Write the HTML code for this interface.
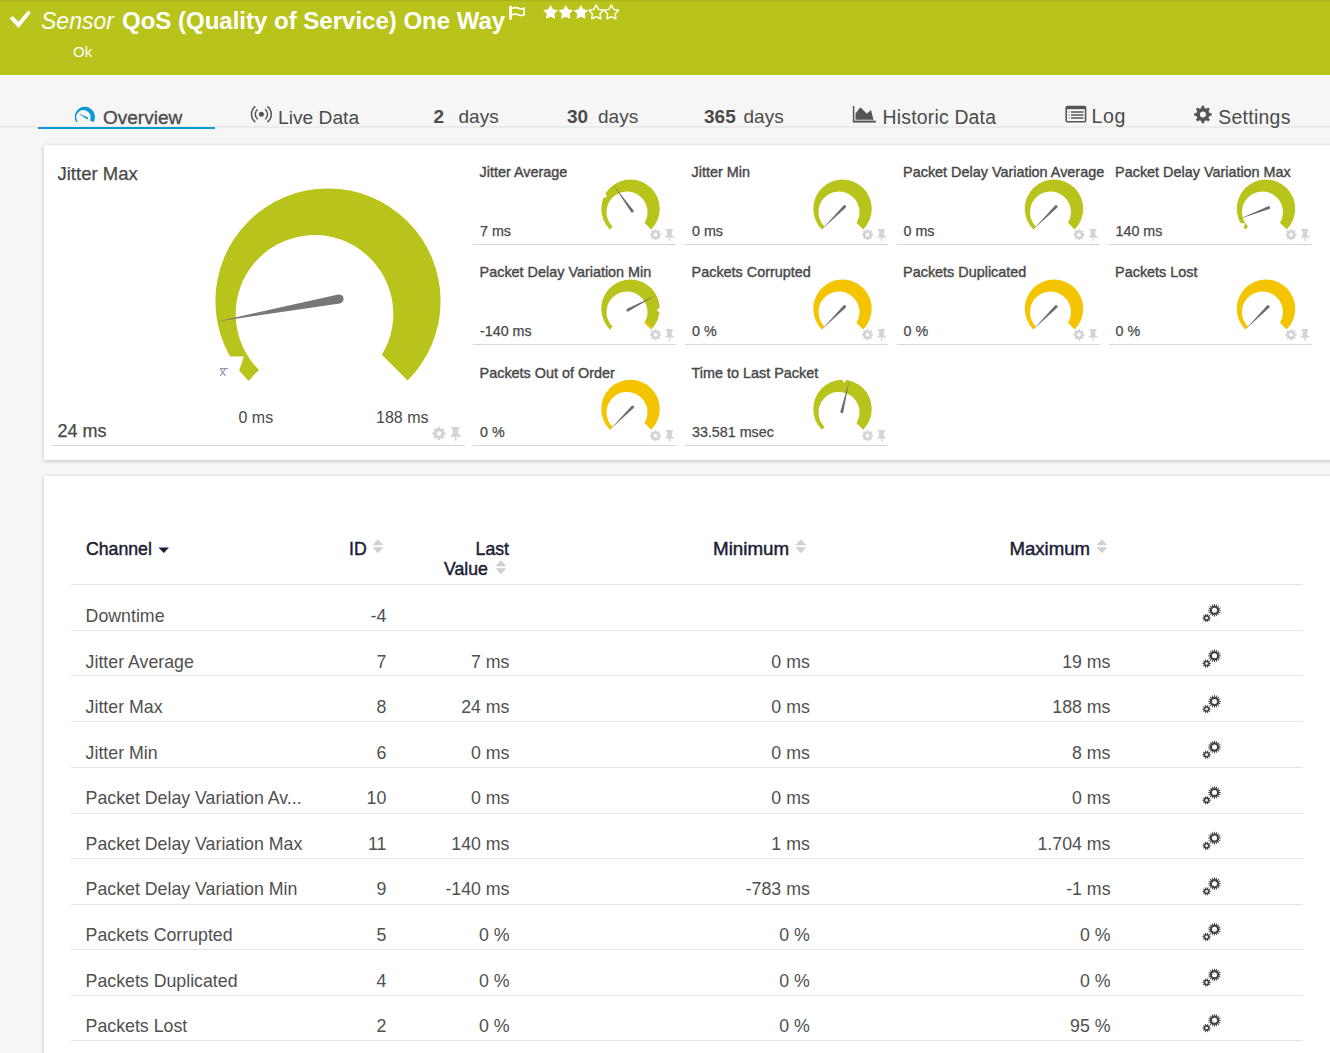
<!DOCTYPE html>
<html><head><meta charset="utf-8"><title>Sensor QoS</title>
<style>
html,body{margin:0;padding:0;}
body{width:1330px;height:1053px;overflow:hidden;position:relative;background:#f6f6f6;font-family:"Liberation Sans",sans-serif;}
.t{position:absolute;white-space:nowrap;line-height:1;}
svg{position:absolute;overflow:visible;}
</style></head><body>
<div style="position:absolute;left:0.00px;top:0.00px;width:1330.00px;height:75.00px;background:#b8c41b;"></div>
<div style="position:absolute;left:0.00px;top:0.00px;width:1330.00px;height:2.00px;background:linear-gradient(#a7b119,#b8c41b);"></div>
<svg style="left:0;top:0" width="40" height="40"><path d="M9.7 18.5 L12.6 16.1 L18.5 21.8 L28.1 10.4 L30.9 12.7 L18.6 28.1 Z" fill="#fff"/></svg>
<div class="t " style="left:41.00px;top:9.53px;font-size:23.00px;color:#fff;font-style:italic;">Sensor</div>
<div class="t " style="left:122.00px;top:8.78px;font-size:24.00px;color:#fff;font-weight:bold;letter-spacing:0px;">QoS (Quality of Service) One Way</div>
<svg style="left:504px;top:2px" width="26" height="22"><rect x="5.2" y="4.3" width="2.7" height="13.5" rx="1" fill="#fff"/><circle cx="6.6" cy="5.2" r="1.4" fill="#fff"/><path d="M8 6.3 C10.5 5.2 13 5.6 16 6.7 C18 7.4 19.2 6.2 20.1 6.2 V12.8 C18.5 13.4 17 13.9 15.5 13.2 C13 12.1 11 11.6 8 12.6" stroke="#fff" stroke-width="1.7" fill="none"/></svg>
<svg style="left:543px;top:0" width="80" height="24"><polygon points="7.60,5.00 9.97,9.34 14.83,10.25 11.43,13.84 12.07,18.75 7.60,16.63 3.13,18.75 3.77,13.84 0.37,10.25 5.23,9.34" fill="#fff"/><polygon points="22.80,5.00 25.17,9.34 30.03,10.25 26.63,13.84 27.27,18.75 22.80,16.63 18.33,18.75 18.97,13.84 15.57,10.25 20.43,9.34" fill="#fff"/><polygon points="38.00,5.00 40.37,9.34 45.23,10.25 41.83,13.84 42.47,18.75 38.00,16.63 33.53,18.75 34.17,13.84 30.77,10.25 35.63,9.34" fill="#fff"/><polygon points="53.20,5.00 55.57,9.34 60.43,10.25 57.03,13.84 57.67,18.75 53.20,16.63 48.73,18.75 49.37,13.84 45.97,10.25 50.83,9.34" fill="none" stroke="#fff" stroke-width="1.4" stroke-linejoin="round"/><polygon points="68.40,5.00 70.77,9.34 75.63,10.25 72.23,13.84 72.87,18.75 68.40,16.63 63.93,18.75 64.57,13.84 61.17,10.25 66.03,9.34" fill="none" stroke="#fff" stroke-width="1.4" stroke-linejoin="round"/></svg>
<div class="t " style="left:73.00px;top:44.30px;font-size:15.00px;color:#fff;font-weight:normal;">Ok</div>
<div style="position:absolute;left:0.00px;top:126.20px;width:1330.00px;height:1.60px;background:#ebebeb;"></div>
<div style="position:absolute;left:38.00px;top:127.00px;width:177.00px;height:2.00px;background:#0a9ad6;"></div>
<svg style="left:0;top:0" width="200" height="200"><path d="M76.24 122.33 A10.15 10.15 0 1 1 93.46 122.33 L90.02 120.18 A7.21 7.21 0 1 0 77.59 121.48 Z" fill="#0a9ad6"/><path d="M87.56 117.32 L78.22 113.20 L86.56 119.08 A1.02 1.02 0 0 0 87.56 117.32 Z" fill="#0a9ad6"/></svg>
<div class="t " style="left:103.00px;top:107.92px;font-size:19.00px;color:#4b4b4b;-webkit-text-stroke:0.35px #4b4b4b;">Overview</div>
<svg style="left:240px;top:100px" width="40" height="26"><circle cx="21.4" cy="14.3" r="2.5" fill="#555"/><path d="M17.6 9.2 A6.8 6.8 0 0 0 17.6 19.4 M25.2 9.2 A6.8 6.8 0 0 1 25.2 19.4 M15.4 6.4 A10 10 0 0 0 15.4 22.2 M27.4 6.4 A10 10 0 0 1 27.4 22.2" stroke="#555" stroke-width="1.5" fill="none"/></svg>
<div class="t " style="left:278.00px;top:107.75px;font-size:19.20px;color:#4b4b4b;">Live Data</div>
<div class="t " style="left:433.50px;top:106.82px;font-size:19.00px;color:#4b4b4b;font-weight:bold;">2</div>
<div class="t " style="left:458.50px;top:106.82px;font-size:19.00px;color:#4b4b4b;">days</div>
<div class="t " style="left:567.00px;top:106.82px;font-size:19.00px;color:#4b4b4b;font-weight:bold;">30</div>
<div class="t " style="left:598.00px;top:106.82px;font-size:19.00px;color:#4b4b4b;">days</div>
<div class="t " style="left:704.00px;top:106.82px;font-size:19.00px;color:#4b4b4b;font-weight:bold;">365</div>
<div class="t " style="left:743.50px;top:106.82px;font-size:19.00px;color:#4b4b4b;">days</div>
<svg style="left:850px;top:104px" width="30" height="20"><path d="M3.6 2 V17.6" stroke="#555" stroke-width="1.5" fill="none"/><path d="M2.9 17.6 H25.8" stroke="#555" stroke-width="2" fill="none"/><path d="M5.5 15.8 V9.4 L10.3 3.2 L16.9 9.8 L21 6 L23.5 15.8 Z" fill="#555"/></svg>
<div class="t " style="left:882.60px;top:107.58px;font-size:19.40px;color:#4b4b4b;letter-spacing:0.2px;">Historic Data</div>
<svg style="left:1064px;top:104px" width="24" height="20"><rect x="2.2" y="2.6" width="19.4" height="15.2" rx="1.2" fill="none" stroke="#555" stroke-width="1.6"/><rect x="2" y="2" width="19.8" height="3.2" fill="#555"/><path d="M4.5 8 H5.5 M4.5 11 H5.5 M4.5 14 H5.5" stroke="#555" stroke-width="1.2"/><path d="M7 8 H19.5 M7 11 H19.5 M7 14 H19.5" stroke="#555" stroke-width="1.6"/></svg>
<div class="t " style="left:1091.60px;top:107.41px;font-size:19.60px;color:#4b4b4b;letter-spacing:0.5px;">Log</div>
<svg style="left:1190px;top:102px" width="26" height="26"><path d="M19.32,10.96 L21.60,11.19 L21.60,13.81 L19.32,14.04 L18.53,15.95 L19.98,17.73 L18.13,19.58 L16.35,18.13 L14.44,18.92 L14.21,21.20 L11.59,21.20 L11.36,18.92 L9.45,18.13 L7.67,19.58 L5.82,17.73 L7.27,15.95 L6.48,14.04 L4.20,13.81 L4.20,11.19 L6.48,10.96 L7.27,9.05 L5.82,7.27 L7.67,5.42 L9.45,6.87 L11.36,6.08 L11.59,3.80 L14.21,3.80 L14.44,6.08 L16.35,6.87 L18.13,5.42 L19.98,7.27 L18.53,9.05 Z M9.90 12.50 a3.00 3.00 0 1 0 6.00 0 a3.00 3.00 0 1 0 -6.00 0 Z" fill="#555" fill-rule="evenodd"/></svg>
<div class="t " style="left:1218.20px;top:107.58px;font-size:19.40px;color:#4b4b4b;letter-spacing:0.3px;">Settings</div>
<div style="position:absolute;left:44.00px;top:145.00px;width:1300.00px;height:315.00px;background:#fff;box-shadow:0 1px 4px rgba(0,0,0,0.22);"></div>
<div class="t " style="left:57.50px;top:165.34px;font-size:18.50px;color:#484848;-webkit-text-stroke:0.25px #484848;">Jitter Max</div>
<svg style="left:0;top:0" width="1330" height="1053"><path d="M248.38 380.62 A112.60 112.60 0 1 1 407.62 380.62 L381.86 354.86 A78.82 78.82 0 1 0 259.04 369.96 Z" fill="#b8c41b"/><path d="M222 356.5 L243.9 356.6 L239.2 370.5 L220 390 Z" fill="#fff"/><path d="M239.2 370.5 L248.6 380.8 L252 377.4 L245 365 Z" fill="#b8c41b"/><path d="M338.25 294.52 L216.18 321.72 L339.89 303.38 A4.50 4.50 0 0 0 338.25 294.52 Z" fill="#777"/></svg>
<div class="t " style="left:219.50px;top:365.00px;font-size:13.00px;color:#8a93a8;font-family:"Liberation Serif",serif;">x</div>
<div style="position:absolute;left:219.50px;top:367.50px;width:8.00px;height:1.00px;background:#8a93a8;"></div>
<div class="t " style="left:238.50px;top:409.76px;font-size:16.00px;color:#484848;">0 ms</div>
<div class="t " style="left:376.00px;top:409.76px;font-size:16.00px;color:#484848;">188 ms</div>
<div class="t " style="left:57.50px;top:421.96px;font-size:18.00px;color:#484848;-webkit-text-stroke:0.25px #484848;">24 ms</div>
<div style="position:absolute;left:51.00px;top:445.00px;width:414.00px;height:1.00px;background:#d6d8db;"></div>
<svg style="left:0;top:0" width="1330" height="1053"><path d="M444.01,432.13 L445.51,432.36 L445.51,434.64 L444.01,434.87 L443.51,436.07 L444.41,437.30 L442.80,438.91 L441.57,438.01 L440.37,438.51 L440.14,440.01 L437.86,440.01 L437.63,438.51 L436.43,438.01 L435.20,438.91 L433.59,437.30 L434.49,436.07 L433.99,434.87 L432.49,434.64 L432.49,432.36 L433.99,432.13 L434.49,430.93 L433.59,429.70 L435.20,428.09 L436.43,428.99 L437.63,428.49 L437.86,426.99 L440.14,426.99 L440.37,428.49 L441.57,428.99 L442.80,428.09 L444.41,429.70 L443.51,430.93 Z M436.82 433.50 a2.18 2.18 0 1 0 4.37 0 a2.18 2.18 0 1 0 -4.37 0 Z" fill="#d3d4d6" fill-rule="evenodd"/><path d="M451.39 426.89 L459.53 426.89 L459.53 428.78 L458.23 428.78 L458.23 434.09 L460.83 435.51 L460.83 436.80 L456.46 436.80 L456.46 441.05 L454.93 441.05 L454.93 436.80 L450.56 436.80 L450.56 435.51 L452.69 434.09 L452.69 428.78 L451.39 428.78 Z" fill="#d3d4d6"/></svg>
<div class="t " style="left:479.60px;top:164.81px;font-size:14.40px;color:#484848;-webkit-text-stroke:0.4px #484848;">Jitter Average</div>
<div class="t " style="left:480.00px;top:223.90px;font-size:14.30px;color:#484848;-webkit-text-stroke:0.25px #484848;">7 ms</div>
<div style="position:absolute;left:473.00px;top:244.00px;width:203.00px;height:1.00px;background:#d6d8db;"></div>
<div class="t " style="left:691.60px;top:164.81px;font-size:14.40px;color:#484848;-webkit-text-stroke:0.4px #484848;">Jitter Min</div>
<div class="t " style="left:692.00px;top:223.90px;font-size:14.30px;color:#484848;-webkit-text-stroke:0.25px #484848;">0 ms</div>
<div style="position:absolute;left:685.00px;top:244.00px;width:203.00px;height:1.00px;background:#d6d8db;"></div>
<div class="t " style="left:903.10px;top:164.81px;font-size:14.40px;color:#484848;-webkit-text-stroke:0.4px #484848;">Packet Delay Variation Average</div>
<div class="t " style="left:903.50px;top:223.90px;font-size:14.30px;color:#484848;-webkit-text-stroke:0.25px #484848;">0 ms</div>
<div style="position:absolute;left:896.50px;top:244.00px;width:203.00px;height:1.00px;background:#d6d8db;"></div>
<div class="t " style="left:1115.10px;top:164.81px;font-size:14.40px;color:#484848;-webkit-text-stroke:0.4px #484848;">Packet Delay Variation Max</div>
<div class="t " style="left:1115.50px;top:223.90px;font-size:14.30px;color:#484848;-webkit-text-stroke:0.25px #484848;">140 ms</div>
<div style="position:absolute;left:1108.50px;top:244.00px;width:203.00px;height:1.00px;background:#d6d8db;"></div>
<div class="t " style="left:479.60px;top:264.81px;font-size:14.40px;color:#484848;-webkit-text-stroke:0.4px #484848;">Packet Delay Variation Min</div>
<div class="t " style="left:480.00px;top:323.90px;font-size:14.30px;color:#484848;-webkit-text-stroke:0.25px #484848;">-140 ms</div>
<div style="position:absolute;left:473.00px;top:344.00px;width:203.00px;height:1.00px;background:#d6d8db;"></div>
<div class="t " style="left:691.60px;top:264.81px;font-size:14.40px;color:#484848;-webkit-text-stroke:0.4px #484848;">Packets Corrupted</div>
<div class="t " style="left:692.00px;top:323.90px;font-size:14.30px;color:#484848;-webkit-text-stroke:0.25px #484848;">0 %</div>
<div style="position:absolute;left:685.00px;top:344.00px;width:203.00px;height:1.00px;background:#d6d8db;"></div>
<div class="t " style="left:903.10px;top:264.81px;font-size:14.40px;color:#484848;-webkit-text-stroke:0.4px #484848;">Packets Duplicated</div>
<div class="t " style="left:903.50px;top:323.90px;font-size:14.30px;color:#484848;-webkit-text-stroke:0.25px #484848;">0 %</div>
<div style="position:absolute;left:896.50px;top:344.00px;width:203.00px;height:1.00px;background:#d6d8db;"></div>
<div class="t " style="left:1115.10px;top:264.81px;font-size:14.40px;color:#484848;-webkit-text-stroke:0.4px #484848;">Packets Lost</div>
<div class="t " style="left:1115.50px;top:323.90px;font-size:14.30px;color:#484848;-webkit-text-stroke:0.25px #484848;">0 %</div>
<div style="position:absolute;left:1108.50px;top:344.00px;width:203.00px;height:1.00px;background:#d6d8db;"></div>
<div class="t " style="left:479.60px;top:365.81px;font-size:14.40px;color:#484848;-webkit-text-stroke:0.4px #484848;">Packets Out of Order</div>
<div class="t " style="left:480.00px;top:424.90px;font-size:14.30px;color:#484848;-webkit-text-stroke:0.25px #484848;">0 %</div>
<div style="position:absolute;left:473.00px;top:445.00px;width:203.00px;height:1.00px;background:#d6d8db;"></div>
<div class="t " style="left:691.60px;top:365.81px;font-size:14.40px;color:#484848;-webkit-text-stroke:0.4px #484848;">Time to Last Packet</div>
<div class="t " style="left:692.00px;top:424.90px;font-size:14.30px;color:#484848;-webkit-text-stroke:0.25px #484848;">33.581 msec</div>
<div style="position:absolute;left:685.00px;top:445.00px;width:203.00px;height:1.00px;background:#d6d8db;"></div>
<svg style="left:0;top:0" width="1330" height="1053"><path d="M609.82 229.38 A29.25 29.25 0 1 1 651.18 229.38 L644.49 222.69 A20.47 20.47 0 1 0 612.59 226.61 Z" fill="#b8c41b"/><path d="M601.70 197.93 L607.19 197.08 L604.57 192.18 Z" fill="#fff"/><path d="M633.40 210.21 L613.31 185.04 L631.04 211.93 A1.46 1.46 0 0 0 633.40 210.21 Z" fill="#6d6d6d"/><path d="M659.74,233.54 L661.02,233.74 L661.02,235.66 L659.74,235.86 L659.32,236.88 L660.08,237.92 L658.72,239.28 L657.68,238.52 L656.66,238.94 L656.46,240.22 L654.54,240.22 L654.34,238.94 L653.32,238.52 L652.28,239.28 L650.92,237.92 L651.68,236.88 L651.26,235.86 L649.98,235.66 L649.98,233.74 L651.26,233.54 L651.68,232.52 L650.92,231.48 L652.28,230.12 L653.32,230.88 L654.34,230.46 L654.54,229.18 L656.46,229.18 L656.66,230.46 L657.68,230.88 L658.72,230.12 L660.08,231.48 L659.32,232.52 Z M653.65 234.70 a1.85 1.85 0 1 0 3.70 0 a1.85 1.85 0 1 0 -3.70 0 Z" fill="#d3d4d6" fill-rule="evenodd"/><path d="M666.00 229.10 L672.90 229.10 L672.90 230.70 L671.80 230.70 L671.80 235.20 L674.00 236.40 L674.00 237.50 L670.30 237.50 L670.30 241.10 L669.00 241.10 L669.00 237.50 L665.30 237.50 L665.30 236.40 L667.10 235.20 L667.10 230.70 L666.00 230.70 Z" fill="#d3d4d6"/><path d="M821.82 229.38 A29.25 29.25 0 1 1 863.18 229.38 L856.49 222.69 A20.47 20.47 0 1 0 824.59 226.61 Z" fill="#b8c41b"/><path d="M843.53 205.60 L821.82 229.38 L845.60 207.67 A1.46 1.46 0 0 0 843.53 205.60 Z" fill="#6d6d6d"/><path d="M871.74,233.54 L873.02,233.74 L873.02,235.66 L871.74,235.86 L871.32,236.88 L872.08,237.92 L870.72,239.28 L869.68,238.52 L868.66,238.94 L868.46,240.22 L866.54,240.22 L866.34,238.94 L865.32,238.52 L864.28,239.28 L862.92,237.92 L863.68,236.88 L863.26,235.86 L861.98,235.66 L861.98,233.74 L863.26,233.54 L863.68,232.52 L862.92,231.48 L864.28,230.12 L865.32,230.88 L866.34,230.46 L866.54,229.18 L868.46,229.18 L868.66,230.46 L869.68,230.88 L870.72,230.12 L872.08,231.48 L871.32,232.52 Z M865.65 234.70 a1.85 1.85 0 1 0 3.70 0 a1.85 1.85 0 1 0 -3.70 0 Z" fill="#d3d4d6" fill-rule="evenodd"/><path d="M878.00 229.10 L884.90 229.10 L884.90 230.70 L883.80 230.70 L883.80 235.20 L886.00 236.40 L886.00 237.50 L882.30 237.50 L882.30 241.10 L881.00 241.10 L881.00 237.50 L877.30 237.50 L877.30 236.40 L879.10 235.20 L879.10 230.70 L878.00 230.70 Z" fill="#d3d4d6"/><path d="M1033.32 229.38 A29.25 29.25 0 1 1 1074.68 229.38 L1067.99 222.69 A20.47 20.47 0 1 0 1036.09 226.61 Z" fill="#b8c41b"/><path d="M1055.03 205.60 L1033.32 229.38 L1057.10 207.67 A1.46 1.46 0 0 0 1055.03 205.60 Z" fill="#6d6d6d"/><path d="M1083.24,233.54 L1084.52,233.74 L1084.52,235.66 L1083.24,235.86 L1082.82,236.88 L1083.58,237.92 L1082.22,239.28 L1081.18,238.52 L1080.16,238.94 L1079.96,240.22 L1078.04,240.22 L1077.84,238.94 L1076.82,238.52 L1075.78,239.28 L1074.42,237.92 L1075.18,236.88 L1074.76,235.86 L1073.48,235.66 L1073.48,233.74 L1074.76,233.54 L1075.18,232.52 L1074.42,231.48 L1075.78,230.12 L1076.82,230.88 L1077.84,230.46 L1078.04,229.18 L1079.96,229.18 L1080.16,230.46 L1081.18,230.88 L1082.22,230.12 L1083.58,231.48 L1082.82,232.52 Z M1077.15 234.70 a1.85 1.85 0 1 0 3.70 0 a1.85 1.85 0 1 0 -3.70 0 Z" fill="#d3d4d6" fill-rule="evenodd"/><path d="M1089.50 229.10 L1096.40 229.10 L1096.40 230.70 L1095.30 230.70 L1095.30 235.20 L1097.50 236.40 L1097.50 237.50 L1093.80 237.50 L1093.80 241.10 L1092.50 241.10 L1092.50 237.50 L1088.80 237.50 L1088.80 236.40 L1090.60 235.20 L1090.60 230.70 L1089.50 230.70 Z" fill="#d3d4d6"/><path d="M1245.32 229.38 A29.25 29.25 0 1 1 1286.68 229.38 L1279.99 222.69 A20.47 20.47 0 1 0 1248.09 226.61 Z" fill="#b8c41b"/><path d="M1235.29 223.32 L1244.94 223.32 L1243.77 227.13 L1235.29 227.13 Z" fill="#fff"/><path d="M1268.21 206.29 L1238.69 219.18 L1269.25 209.02 A1.46 1.46 0 0 0 1268.21 206.29 Z" fill="#6d6d6d"/><path d="M1295.24,233.54 L1296.52,233.74 L1296.52,235.66 L1295.24,235.86 L1294.82,236.88 L1295.58,237.92 L1294.22,239.28 L1293.18,238.52 L1292.16,238.94 L1291.96,240.22 L1290.04,240.22 L1289.84,238.94 L1288.82,238.52 L1287.78,239.28 L1286.42,237.92 L1287.18,236.88 L1286.76,235.86 L1285.48,235.66 L1285.48,233.74 L1286.76,233.54 L1287.18,232.52 L1286.42,231.48 L1287.78,230.12 L1288.82,230.88 L1289.84,230.46 L1290.04,229.18 L1291.96,229.18 L1292.16,230.46 L1293.18,230.88 L1294.22,230.12 L1295.58,231.48 L1294.82,232.52 Z M1289.15 234.70 a1.85 1.85 0 1 0 3.70 0 a1.85 1.85 0 1 0 -3.70 0 Z" fill="#d3d4d6" fill-rule="evenodd"/><path d="M1301.50 229.10 L1308.40 229.10 L1308.40 230.70 L1307.30 230.70 L1307.30 235.20 L1309.50 236.40 L1309.50 237.50 L1305.80 237.50 L1305.80 241.10 L1304.50 241.10 L1304.50 237.50 L1300.80 237.50 L1300.80 236.40 L1302.60 235.20 L1302.60 230.70 L1301.50 230.70 Z" fill="#d3d4d6"/><path d="M609.82 329.38 A29.25 29.25 0 1 1 651.18 329.38 L644.49 322.69 A20.47 20.47 0 1 0 612.59 326.61 Z" fill="#b8c41b"/><path d="M661.21 307.09 L656.51 310.06 L660.87 313.51 Z" fill="#fff"/><path d="M644.49 322.69 L651.18 329.38 L652.60 327.97 L645.91 321.28 Z" fill="#f2c200"/><path d="M628.60 311.36 L656.33 294.97 L627.23 308.78 A1.46 1.46 0 0 0 628.60 311.36 Z" fill="#6d6d6d"/><path d="M659.74,333.54 L661.02,333.74 L661.02,335.66 L659.74,335.86 L659.32,336.88 L660.08,337.92 L658.72,339.28 L657.68,338.52 L656.66,338.94 L656.46,340.22 L654.54,340.22 L654.34,338.94 L653.32,338.52 L652.28,339.28 L650.92,337.92 L651.68,336.88 L651.26,335.86 L649.98,335.66 L649.98,333.74 L651.26,333.54 L651.68,332.52 L650.92,331.48 L652.28,330.12 L653.32,330.88 L654.34,330.46 L654.54,329.18 L656.46,329.18 L656.66,330.46 L657.68,330.88 L658.72,330.12 L660.08,331.48 L659.32,332.52 Z M653.65 334.70 a1.85 1.85 0 1 0 3.70 0 a1.85 1.85 0 1 0 -3.70 0 Z" fill="#d3d4d6" fill-rule="evenodd"/><path d="M666.00 329.10 L672.90 329.10 L672.90 330.70 L671.80 330.70 L671.80 335.20 L674.00 336.40 L674.00 337.50 L670.30 337.50 L670.30 341.10 L669.00 341.10 L669.00 337.50 L665.30 337.50 L665.30 336.40 L667.10 335.20 L667.10 330.70 L666.00 330.70 Z" fill="#d3d4d6"/><path d="M821.82 329.38 A29.25 29.25 0 1 1 863.18 329.38 L856.49 322.69 A20.47 20.47 0 1 0 824.59 326.61 Z" fill="#f5c400"/><path d="M843.53 305.60 L821.82 329.38 L845.60 307.67 A1.46 1.46 0 0 0 843.53 305.60 Z" fill="#6d6d6d"/><path d="M871.74,333.54 L873.02,333.74 L873.02,335.66 L871.74,335.86 L871.32,336.88 L872.08,337.92 L870.72,339.28 L869.68,338.52 L868.66,338.94 L868.46,340.22 L866.54,340.22 L866.34,338.94 L865.32,338.52 L864.28,339.28 L862.92,337.92 L863.68,336.88 L863.26,335.86 L861.98,335.66 L861.98,333.74 L863.26,333.54 L863.68,332.52 L862.92,331.48 L864.28,330.12 L865.32,330.88 L866.34,330.46 L866.54,329.18 L868.46,329.18 L868.66,330.46 L869.68,330.88 L870.72,330.12 L872.08,331.48 L871.32,332.52 Z M865.65 334.70 a1.85 1.85 0 1 0 3.70 0 a1.85 1.85 0 1 0 -3.70 0 Z" fill="#d3d4d6" fill-rule="evenodd"/><path d="M878.00 329.10 L884.90 329.10 L884.90 330.70 L883.80 330.70 L883.80 335.20 L886.00 336.40 L886.00 337.50 L882.30 337.50 L882.30 341.10 L881.00 341.10 L881.00 337.50 L877.30 337.50 L877.30 336.40 L879.10 335.20 L879.10 330.70 L878.00 330.70 Z" fill="#d3d4d6"/><path d="M1033.32 329.38 A29.25 29.25 0 1 1 1074.68 329.38 L1067.99 322.69 A20.47 20.47 0 1 0 1036.09 326.61 Z" fill="#f5c400"/><path d="M1055.03 305.60 L1033.32 329.38 L1057.10 307.67 A1.46 1.46 0 0 0 1055.03 305.60 Z" fill="#6d6d6d"/><path d="M1083.24,333.54 L1084.52,333.74 L1084.52,335.66 L1083.24,335.86 L1082.82,336.88 L1083.58,337.92 L1082.22,339.28 L1081.18,338.52 L1080.16,338.94 L1079.96,340.22 L1078.04,340.22 L1077.84,338.94 L1076.82,338.52 L1075.78,339.28 L1074.42,337.92 L1075.18,336.88 L1074.76,335.86 L1073.48,335.66 L1073.48,333.74 L1074.76,333.54 L1075.18,332.52 L1074.42,331.48 L1075.78,330.12 L1076.82,330.88 L1077.84,330.46 L1078.04,329.18 L1079.96,329.18 L1080.16,330.46 L1081.18,330.88 L1082.22,330.12 L1083.58,331.48 L1082.82,332.52 Z M1077.15 334.70 a1.85 1.85 0 1 0 3.70 0 a1.85 1.85 0 1 0 -3.70 0 Z" fill="#d3d4d6" fill-rule="evenodd"/><path d="M1089.50 329.10 L1096.40 329.10 L1096.40 330.70 L1095.30 330.70 L1095.30 335.20 L1097.50 336.40 L1097.50 337.50 L1093.80 337.50 L1093.80 341.10 L1092.50 341.10 L1092.50 337.50 L1088.80 337.50 L1088.80 336.40 L1090.60 335.20 L1090.60 330.70 L1089.50 330.70 Z" fill="#d3d4d6"/><path d="M1245.32 329.38 A29.25 29.25 0 1 1 1286.68 329.38 L1279.99 322.69 A20.47 20.47 0 1 0 1248.09 326.61 Z" fill="#f5c400"/><path d="M1267.03 305.60 L1245.32 329.38 L1269.10 307.67 A1.46 1.46 0 0 0 1267.03 305.60 Z" fill="#6d6d6d"/><path d="M1295.24,333.54 L1296.52,333.74 L1296.52,335.66 L1295.24,335.86 L1294.82,336.88 L1295.58,337.92 L1294.22,339.28 L1293.18,338.52 L1292.16,338.94 L1291.96,340.22 L1290.04,340.22 L1289.84,338.94 L1288.82,338.52 L1287.78,339.28 L1286.42,337.92 L1287.18,336.88 L1286.76,335.86 L1285.48,335.66 L1285.48,333.74 L1286.76,333.54 L1287.18,332.52 L1286.42,331.48 L1287.78,330.12 L1288.82,330.88 L1289.84,330.46 L1290.04,329.18 L1291.96,329.18 L1292.16,330.46 L1293.18,330.88 L1294.22,330.12 L1295.58,331.48 L1294.82,332.52 Z M1289.15 334.70 a1.85 1.85 0 1 0 3.70 0 a1.85 1.85 0 1 0 -3.70 0 Z" fill="#d3d4d6" fill-rule="evenodd"/><path d="M1301.50 329.10 L1308.40 329.10 L1308.40 330.70 L1307.30 330.70 L1307.30 335.20 L1309.50 336.40 L1309.50 337.50 L1305.80 337.50 L1305.80 341.10 L1304.50 341.10 L1304.50 337.50 L1300.80 337.50 L1300.80 336.40 L1302.60 335.20 L1302.60 330.70 L1301.50 330.70 Z" fill="#d3d4d6"/><path d="M609.82 429.68 A29.25 29.25 0 1 1 651.18 429.68 L644.49 422.99 A20.47 20.47 0 1 0 612.59 426.91 Z" fill="#f5c400"/><path d="M631.53 405.90 L609.82 429.68 L633.60 407.97 A1.46 1.46 0 0 0 631.53 405.90 Z" fill="#6d6d6d"/><path d="M659.74,434.54 L661.02,434.74 L661.02,436.66 L659.74,436.86 L659.32,437.88 L660.08,438.92 L658.72,440.28 L657.68,439.52 L656.66,439.94 L656.46,441.22 L654.54,441.22 L654.34,439.94 L653.32,439.52 L652.28,440.28 L650.92,438.92 L651.68,437.88 L651.26,436.86 L649.98,436.66 L649.98,434.74 L651.26,434.54 L651.68,433.52 L650.92,432.48 L652.28,431.12 L653.32,431.88 L654.34,431.46 L654.54,430.18 L656.46,430.18 L656.66,431.46 L657.68,431.88 L658.72,431.12 L660.08,432.48 L659.32,433.52 Z M653.65 435.70 a1.85 1.85 0 1 0 3.70 0 a1.85 1.85 0 1 0 -3.70 0 Z" fill="#d3d4d6" fill-rule="evenodd"/><path d="M666.00 430.10 L672.90 430.10 L672.90 431.70 L671.80 431.70 L671.80 436.20 L674.00 437.40 L674.00 438.50 L670.30 438.50 L670.30 442.10 L669.00 442.10 L669.00 438.50 L665.30 438.50 L665.30 437.40 L667.10 436.20 L667.10 431.70 L666.00 431.70 Z" fill="#d3d4d6"/><path d="M821.82 429.68 A29.25 29.25 0 1 1 863.18 429.68 L856.49 422.99 A20.47 20.47 0 1 0 824.59 426.91 Z" fill="#b8c41b"/><path d="M841.27 378.27 L844.18 383.00 L847.68 378.69 Z" fill="#fff"/><path d="M843.24 412.18 L849.28 380.55 L840.40 411.51 A1.46 1.46 0 0 0 843.24 412.18 Z" fill="#6d6d6d"/><path d="M871.74,434.54 L873.02,434.74 L873.02,436.66 L871.74,436.86 L871.32,437.88 L872.08,438.92 L870.72,440.28 L869.68,439.52 L868.66,439.94 L868.46,441.22 L866.54,441.22 L866.34,439.94 L865.32,439.52 L864.28,440.28 L862.92,438.92 L863.68,437.88 L863.26,436.86 L861.98,436.66 L861.98,434.74 L863.26,434.54 L863.68,433.52 L862.92,432.48 L864.28,431.12 L865.32,431.88 L866.34,431.46 L866.54,430.18 L868.46,430.18 L868.66,431.46 L869.68,431.88 L870.72,431.12 L872.08,432.48 L871.32,433.52 Z M865.65 435.70 a1.85 1.85 0 1 0 3.70 0 a1.85 1.85 0 1 0 -3.70 0 Z" fill="#d3d4d6" fill-rule="evenodd"/><path d="M878.00 430.10 L884.90 430.10 L884.90 431.70 L883.80 431.70 L883.80 436.20 L886.00 437.40 L886.00 438.50 L882.30 438.50 L882.30 442.10 L881.00 442.10 L881.00 438.50 L877.30 438.50 L877.30 437.40 L879.10 436.20 L879.10 431.70 L878.00 431.70 Z" fill="#d3d4d6"/></svg>
<div style="position:absolute;left:44.00px;top:476.00px;width:1300.00px;height:700.00px;background:#fff;box-shadow:0 1px 4px rgba(0,0,0,0.22);"></div>
<div class="t " style="left:85.60px;top:539.56px;font-size:18.60px;color:#1c1c33;font-weight:normal;-webkit-text-stroke:0.45px #1c1c33;transform:scaleX(0.95);transform-origin:0 0;">Channel</div>
<svg style="left:0;top:0" width="1330" height="1053"><path d="M158.5 547.5 H169 L163.75 553 Z" fill="#1c1c33"/></svg>
<div class="t " style="left:348.70px;top:539.56px;font-size:18.60px;color:#1c1c33;font-weight:normal;-webkit-text-stroke:0.45px #1c1c33;transform:scaleX(0.95);transform-origin:0 0;">ID</div>
<div class="t " style="left:109.30px;width:400px;text-align:right;top:539.56px;font-size:18.60px;color:#1c1c33;font-weight:normal;-webkit-text-stroke:0.45px #1c1c33;transform:scaleX(0.95);transform-origin:100% 0;">Last</div>
<div class="t " style="left:443.50px;top:560.46px;font-size:18.60px;color:#1c1c33;font-weight:normal;-webkit-text-stroke:0.45px #1c1c33;transform:scaleX(0.95);transform-origin:0 0;">Value</div>
<div class="t " style="left:712.60px;top:539.56px;font-size:18.60px;color:#1c1c33;font-weight:normal;-webkit-text-stroke:0.45px #1c1c33;transform:scaleX(1.01);transform-origin:0 0;">Minimum</div>
<div class="t " style="left:1009.40px;top:539.56px;font-size:18.60px;color:#1c1c33;font-weight:normal;-webkit-text-stroke:0.45px #1c1c33;transform:scaleX(1.0);transform-origin:0 0;">Maximum</div>
<svg style="left:0;top:0" width="1330" height="1053"><path d="M372.5 545.3 l5.4 -6 l5.4 6 z M372.5 547.2 l5.4 6 l5.4 -6 z" fill="#d0d0d0"/><path d="M495.5 566.3 l5.4 -6 l5.4 6 z M495.5 568.2 l5.4 6 l5.4 -6 z" fill="#d0d0d0"/><path d="M795.5 545.3 l5.4 -6 l5.4 6 z M795.5 547.2 l5.4 6 l5.4 -6 z" fill="#d0d0d0"/><path d="M1096.5 545.3 l5.4 -6 l5.4 6 z M1096.5 547.2 l5.4 6 l5.4 -6 z" fill="#d0d0d0"/></svg>
<div style="position:absolute;left:71.00px;top:584.00px;width:1232.00px;height:1.00px;background:#e6e6e6;"></div>
<div class="t " style="left:85.60px;top:608.07px;font-size:17.75px;color:#505050;">Downtime</div>
<div class="t " style="left:-13.70px;width:400px;text-align:right;top:608.07px;font-size:17.75px;color:#505050;">-4</div>
<div style="position:absolute;left:71.00px;top:630.00px;width:1232.00px;height:1.00px;background:#e6e6e6;"></div>
<div class="t " style="left:85.60px;top:653.63px;font-size:17.75px;color:#505050;">Jitter Average</div>
<div class="t " style="left:-13.70px;width:400px;text-align:right;top:653.63px;font-size:17.75px;color:#505050;">7</div>
<div class="t " style="left:109.50px;width:400px;text-align:right;top:653.63px;font-size:17.75px;color:#505050;">7 ms</div>
<div class="t " style="left:409.80px;width:400px;text-align:right;top:653.63px;font-size:17.75px;color:#505050;">0 ms</div>
<div class="t " style="left:710.50px;width:400px;text-align:right;top:653.63px;font-size:17.75px;color:#505050;">19 ms</div>
<div style="position:absolute;left:71.00px;top:675.00px;width:1232.00px;height:1.00px;background:#e6e6e6;"></div>
<div class="t " style="left:85.60px;top:699.19px;font-size:17.75px;color:#505050;">Jitter Max</div>
<div class="t " style="left:-13.70px;width:400px;text-align:right;top:699.19px;font-size:17.75px;color:#505050;">8</div>
<div class="t " style="left:109.50px;width:400px;text-align:right;top:699.19px;font-size:17.75px;color:#505050;">24 ms</div>
<div class="t " style="left:409.80px;width:400px;text-align:right;top:699.19px;font-size:17.75px;color:#505050;">0 ms</div>
<div class="t " style="left:710.50px;width:400px;text-align:right;top:699.19px;font-size:17.75px;color:#505050;">188 ms</div>
<div style="position:absolute;left:71.00px;top:721.00px;width:1232.00px;height:1.00px;background:#e6e6e6;"></div>
<div class="t " style="left:85.60px;top:744.75px;font-size:17.75px;color:#505050;">Jitter Min</div>
<div class="t " style="left:-13.70px;width:400px;text-align:right;top:744.75px;font-size:17.75px;color:#505050;">6</div>
<div class="t " style="left:109.50px;width:400px;text-align:right;top:744.75px;font-size:17.75px;color:#505050;">0 ms</div>
<div class="t " style="left:409.80px;width:400px;text-align:right;top:744.75px;font-size:17.75px;color:#505050;">0 ms</div>
<div class="t " style="left:710.50px;width:400px;text-align:right;top:744.75px;font-size:17.75px;color:#505050;">8 ms</div>
<div style="position:absolute;left:71.00px;top:767.00px;width:1232.00px;height:1.00px;background:#e6e6e6;"></div>
<div class="t " style="left:85.60px;top:790.31px;font-size:17.75px;color:#505050;">Packet Delay Variation Av...</div>
<div class="t " style="left:-13.70px;width:400px;text-align:right;top:790.31px;font-size:17.75px;color:#505050;">10</div>
<div class="t " style="left:109.50px;width:400px;text-align:right;top:790.31px;font-size:17.75px;color:#505050;">0 ms</div>
<div class="t " style="left:409.80px;width:400px;text-align:right;top:790.31px;font-size:17.75px;color:#505050;">0 ms</div>
<div class="t " style="left:710.50px;width:400px;text-align:right;top:790.31px;font-size:17.75px;color:#505050;">0 ms</div>
<div style="position:absolute;left:71.00px;top:813.00px;width:1232.00px;height:1.00px;background:#e6e6e6;"></div>
<div class="t " style="left:85.60px;top:835.87px;font-size:17.75px;color:#505050;">Packet Delay Variation Max</div>
<div class="t " style="left:-13.70px;width:400px;text-align:right;top:835.87px;font-size:17.75px;color:#505050;">11</div>
<div class="t " style="left:109.50px;width:400px;text-align:right;top:835.87px;font-size:17.75px;color:#505050;">140 ms</div>
<div class="t " style="left:409.80px;width:400px;text-align:right;top:835.87px;font-size:17.75px;color:#505050;">1 ms</div>
<div class="t " style="left:710.50px;width:400px;text-align:right;top:835.87px;font-size:17.75px;color:#505050;">1.704 ms</div>
<div style="position:absolute;left:71.00px;top:858.00px;width:1232.00px;height:1.00px;background:#e6e6e6;"></div>
<div class="t " style="left:85.60px;top:881.43px;font-size:17.75px;color:#505050;">Packet Delay Variation Min</div>
<div class="t " style="left:-13.70px;width:400px;text-align:right;top:881.43px;font-size:17.75px;color:#505050;">9</div>
<div class="t " style="left:109.50px;width:400px;text-align:right;top:881.43px;font-size:17.75px;color:#505050;">-140 ms</div>
<div class="t " style="left:409.80px;width:400px;text-align:right;top:881.43px;font-size:17.75px;color:#505050;">-783 ms</div>
<div class="t " style="left:710.50px;width:400px;text-align:right;top:881.43px;font-size:17.75px;color:#505050;">-1 ms</div>
<div style="position:absolute;left:71.00px;top:904.00px;width:1232.00px;height:1.00px;background:#e6e6e6;"></div>
<div class="t " style="left:85.60px;top:926.99px;font-size:17.75px;color:#505050;">Packets Corrupted</div>
<div class="t " style="left:-13.70px;width:400px;text-align:right;top:926.99px;font-size:17.75px;color:#505050;">5</div>
<div class="t " style="left:109.50px;width:400px;text-align:right;top:926.99px;font-size:17.75px;color:#505050;">0 %</div>
<div class="t " style="left:409.80px;width:400px;text-align:right;top:926.99px;font-size:17.75px;color:#505050;">0 %</div>
<div class="t " style="left:710.50px;width:400px;text-align:right;top:926.99px;font-size:17.75px;color:#505050;">0 %</div>
<div style="position:absolute;left:71.00px;top:949.00px;width:1232.00px;height:1.00px;background:#e6e6e6;"></div>
<div class="t " style="left:85.60px;top:972.55px;font-size:17.75px;color:#505050;">Packets Duplicated</div>
<div class="t " style="left:-13.70px;width:400px;text-align:right;top:972.55px;font-size:17.75px;color:#505050;">4</div>
<div class="t " style="left:109.50px;width:400px;text-align:right;top:972.55px;font-size:17.75px;color:#505050;">0 %</div>
<div class="t " style="left:409.80px;width:400px;text-align:right;top:972.55px;font-size:17.75px;color:#505050;">0 %</div>
<div class="t " style="left:710.50px;width:400px;text-align:right;top:972.55px;font-size:17.75px;color:#505050;">0 %</div>
<div style="position:absolute;left:71.00px;top:995.00px;width:1232.00px;height:1.00px;background:#e6e6e6;"></div>
<div class="t " style="left:85.60px;top:1018.11px;font-size:17.75px;color:#505050;">Packets Lost</div>
<div class="t " style="left:-13.70px;width:400px;text-align:right;top:1018.11px;font-size:17.75px;color:#505050;">2</div>
<div class="t " style="left:109.50px;width:400px;text-align:right;top:1018.11px;font-size:17.75px;color:#505050;">0 %</div>
<div class="t " style="left:409.80px;width:400px;text-align:right;top:1018.11px;font-size:17.75px;color:#505050;">0 %</div>
<div class="t " style="left:710.50px;width:400px;text-align:right;top:1018.11px;font-size:17.75px;color:#505050;">95 %</div>
<div style="position:absolute;left:71.00px;top:1040.00px;width:1232.00px;height:1.00px;background:#e6e6e6;"></div>
<svg style="left:0;top:0" width="1330" height="1053"><path d="M1219.17,609.78 L1220.89,609.90 L1220.89,610.70 L1219.17,610.82 L1219.01,611.61 L1220.55,612.37 L1220.25,613.12 L1218.62,612.56 L1218.17,613.24 L1219.30,614.53 L1218.73,615.10 L1217.44,613.97 L1216.76,614.42 L1217.32,616.05 L1216.57,616.35 L1215.81,614.81 L1215.02,614.97 L1214.90,616.69 L1214.10,616.69 L1213.98,614.97 L1213.19,614.81 L1212.43,616.35 L1211.68,616.05 L1212.24,614.42 L1211.56,613.97 L1210.27,615.10 L1209.70,614.53 L1210.83,613.24 L1210.38,612.56 L1208.75,613.12 L1208.45,612.37 L1209.99,611.61 L1209.83,610.82 L1208.11,610.70 L1208.11,609.90 L1209.83,609.78 L1209.99,608.99 L1208.45,608.23 L1208.75,607.48 L1210.38,608.04 L1210.83,607.36 L1209.70,606.07 L1210.27,605.50 L1211.56,606.63 L1212.24,606.18 L1211.68,604.55 L1212.43,604.25 L1213.19,605.79 L1213.98,605.63 L1214.10,603.91 L1214.90,603.91 L1215.02,605.63 L1215.81,605.79 L1216.57,604.25 L1217.32,604.55 L1216.76,606.18 L1217.44,606.63 L1218.73,605.50 L1219.30,606.07 L1218.17,607.36 L1218.62,608.04 L1220.25,607.48 L1220.55,608.23 L1219.01,608.99 Z M1212.00 610.30 a2.50 2.50 0 1 0 5.00 0 a2.50 2.50 0 1 0 -5.00 0 Z" fill="#444" fill-rule="evenodd"/><path d="M1209.55,617.44 L1210.78,617.55 L1210.78,618.45 L1209.55,618.56 L1209.31,619.28 L1210.24,620.09 L1209.72,620.82 L1208.65,620.19 L1208.05,620.63 L1208.32,621.83 L1207.46,622.11 L1206.98,620.98 L1206.22,620.98 L1205.74,622.11 L1204.88,621.83 L1205.15,620.63 L1204.55,620.19 L1203.48,620.82 L1202.96,620.09 L1203.89,619.28 L1203.65,618.56 L1202.42,618.45 L1202.42,617.55 L1203.65,617.44 L1203.89,616.72 L1202.96,615.91 L1203.48,615.18 L1204.55,615.81 L1205.15,615.37 L1204.88,614.17 L1205.74,613.89 L1206.22,615.02 L1206.98,615.02 L1207.46,613.89 L1208.32,614.17 L1208.05,615.37 L1208.65,615.81 L1209.72,615.18 L1210.24,615.91 L1209.31,616.72 Z M1205.30 618.00 a1.30 1.30 0 1 0 2.60 0 a1.30 1.30 0 1 0 -2.60 0 Z" fill="#444" fill-rule="evenodd"/><path d="M1219.17,655.34 L1220.89,655.46 L1220.89,656.26 L1219.17,656.38 L1219.01,657.17 L1220.55,657.93 L1220.25,658.68 L1218.62,658.12 L1218.17,658.80 L1219.30,660.09 L1218.73,660.66 L1217.44,659.53 L1216.76,659.98 L1217.32,661.61 L1216.57,661.91 L1215.81,660.37 L1215.02,660.53 L1214.90,662.25 L1214.10,662.25 L1213.98,660.53 L1213.19,660.37 L1212.43,661.91 L1211.68,661.61 L1212.24,659.98 L1211.56,659.53 L1210.27,660.66 L1209.70,660.09 L1210.83,658.80 L1210.38,658.12 L1208.75,658.68 L1208.45,657.93 L1209.99,657.17 L1209.83,656.38 L1208.11,656.26 L1208.11,655.46 L1209.83,655.34 L1209.99,654.55 L1208.45,653.79 L1208.75,653.04 L1210.38,653.60 L1210.83,652.92 L1209.70,651.63 L1210.27,651.06 L1211.56,652.19 L1212.24,651.74 L1211.68,650.11 L1212.43,649.81 L1213.19,651.35 L1213.98,651.19 L1214.10,649.47 L1214.90,649.47 L1215.02,651.19 L1215.81,651.35 L1216.57,649.81 L1217.32,650.11 L1216.76,651.74 L1217.44,652.19 L1218.73,651.06 L1219.30,651.63 L1218.17,652.92 L1218.62,653.60 L1220.25,653.04 L1220.55,653.79 L1219.01,654.55 Z M1212.00 655.86 a2.50 2.50 0 1 0 5.00 0 a2.50 2.50 0 1 0 -5.00 0 Z" fill="#444" fill-rule="evenodd"/><path d="M1209.55,663.00 L1210.78,663.11 L1210.78,664.01 L1209.55,664.12 L1209.31,664.84 L1210.24,665.65 L1209.72,666.38 L1208.65,665.75 L1208.05,666.19 L1208.32,667.39 L1207.46,667.67 L1206.98,666.54 L1206.22,666.54 L1205.74,667.67 L1204.88,667.39 L1205.15,666.19 L1204.55,665.75 L1203.48,666.38 L1202.96,665.65 L1203.89,664.84 L1203.65,664.12 L1202.42,664.01 L1202.42,663.11 L1203.65,663.00 L1203.89,662.28 L1202.96,661.47 L1203.48,660.74 L1204.55,661.37 L1205.15,660.93 L1204.88,659.73 L1205.74,659.45 L1206.22,660.58 L1206.98,660.58 L1207.46,659.45 L1208.32,659.73 L1208.05,660.93 L1208.65,661.37 L1209.72,660.74 L1210.24,661.47 L1209.31,662.28 Z M1205.30 663.56 a1.30 1.30 0 1 0 2.60 0 a1.30 1.30 0 1 0 -2.60 0 Z" fill="#444" fill-rule="evenodd"/><path d="M1219.17,700.90 L1220.89,701.02 L1220.89,701.82 L1219.17,701.94 L1219.01,702.73 L1220.55,703.49 L1220.25,704.24 L1218.62,703.68 L1218.17,704.36 L1219.30,705.65 L1218.73,706.22 L1217.44,705.09 L1216.76,705.54 L1217.32,707.17 L1216.57,707.47 L1215.81,705.93 L1215.02,706.09 L1214.90,707.81 L1214.10,707.81 L1213.98,706.09 L1213.19,705.93 L1212.43,707.47 L1211.68,707.17 L1212.24,705.54 L1211.56,705.09 L1210.27,706.22 L1209.70,705.65 L1210.83,704.36 L1210.38,703.68 L1208.75,704.24 L1208.45,703.49 L1209.99,702.73 L1209.83,701.94 L1208.11,701.82 L1208.11,701.02 L1209.83,700.90 L1209.99,700.11 L1208.45,699.35 L1208.75,698.60 L1210.38,699.16 L1210.83,698.48 L1209.70,697.19 L1210.27,696.62 L1211.56,697.75 L1212.24,697.30 L1211.68,695.67 L1212.43,695.37 L1213.19,696.91 L1213.98,696.75 L1214.10,695.03 L1214.90,695.03 L1215.02,696.75 L1215.81,696.91 L1216.57,695.37 L1217.32,695.67 L1216.76,697.30 L1217.44,697.75 L1218.73,696.62 L1219.30,697.19 L1218.17,698.48 L1218.62,699.16 L1220.25,698.60 L1220.55,699.35 L1219.01,700.11 Z M1212.00 701.42 a2.50 2.50 0 1 0 5.00 0 a2.50 2.50 0 1 0 -5.00 0 Z" fill="#444" fill-rule="evenodd"/><path d="M1209.55,708.56 L1210.78,708.67 L1210.78,709.57 L1209.55,709.68 L1209.31,710.40 L1210.24,711.21 L1209.72,711.94 L1208.65,711.31 L1208.05,711.75 L1208.32,712.95 L1207.46,713.23 L1206.98,712.10 L1206.22,712.10 L1205.74,713.23 L1204.88,712.95 L1205.15,711.75 L1204.55,711.31 L1203.48,711.94 L1202.96,711.21 L1203.89,710.40 L1203.65,709.68 L1202.42,709.57 L1202.42,708.67 L1203.65,708.56 L1203.89,707.84 L1202.96,707.03 L1203.48,706.30 L1204.55,706.93 L1205.15,706.49 L1204.88,705.29 L1205.74,705.01 L1206.22,706.14 L1206.98,706.14 L1207.46,705.01 L1208.32,705.29 L1208.05,706.49 L1208.65,706.93 L1209.72,706.30 L1210.24,707.03 L1209.31,707.84 Z M1205.30 709.12 a1.30 1.30 0 1 0 2.60 0 a1.30 1.30 0 1 0 -2.60 0 Z" fill="#444" fill-rule="evenodd"/><path d="M1219.17,746.46 L1220.89,746.58 L1220.89,747.38 L1219.17,747.50 L1219.01,748.29 L1220.55,749.05 L1220.25,749.80 L1218.62,749.24 L1218.17,749.92 L1219.30,751.21 L1218.73,751.78 L1217.44,750.65 L1216.76,751.10 L1217.32,752.73 L1216.57,753.03 L1215.81,751.49 L1215.02,751.65 L1214.90,753.37 L1214.10,753.37 L1213.98,751.65 L1213.19,751.49 L1212.43,753.03 L1211.68,752.73 L1212.24,751.10 L1211.56,750.65 L1210.27,751.78 L1209.70,751.21 L1210.83,749.92 L1210.38,749.24 L1208.75,749.80 L1208.45,749.05 L1209.99,748.29 L1209.83,747.50 L1208.11,747.38 L1208.11,746.58 L1209.83,746.46 L1209.99,745.67 L1208.45,744.91 L1208.75,744.16 L1210.38,744.72 L1210.83,744.04 L1209.70,742.75 L1210.27,742.18 L1211.56,743.31 L1212.24,742.86 L1211.68,741.23 L1212.43,740.93 L1213.19,742.47 L1213.98,742.31 L1214.10,740.59 L1214.90,740.59 L1215.02,742.31 L1215.81,742.47 L1216.57,740.93 L1217.32,741.23 L1216.76,742.86 L1217.44,743.31 L1218.73,742.18 L1219.30,742.75 L1218.17,744.04 L1218.62,744.72 L1220.25,744.16 L1220.55,744.91 L1219.01,745.67 Z M1212.00 746.98 a2.50 2.50 0 1 0 5.00 0 a2.50 2.50 0 1 0 -5.00 0 Z" fill="#444" fill-rule="evenodd"/><path d="M1209.55,754.12 L1210.78,754.23 L1210.78,755.13 L1209.55,755.24 L1209.31,755.96 L1210.24,756.77 L1209.72,757.50 L1208.65,756.87 L1208.05,757.31 L1208.32,758.51 L1207.46,758.79 L1206.98,757.66 L1206.22,757.66 L1205.74,758.79 L1204.88,758.51 L1205.15,757.31 L1204.55,756.87 L1203.48,757.50 L1202.96,756.77 L1203.89,755.96 L1203.65,755.24 L1202.42,755.13 L1202.42,754.23 L1203.65,754.12 L1203.89,753.40 L1202.96,752.59 L1203.48,751.86 L1204.55,752.49 L1205.15,752.05 L1204.88,750.85 L1205.74,750.57 L1206.22,751.70 L1206.98,751.70 L1207.46,750.57 L1208.32,750.85 L1208.05,752.05 L1208.65,752.49 L1209.72,751.86 L1210.24,752.59 L1209.31,753.40 Z M1205.30 754.68 a1.30 1.30 0 1 0 2.60 0 a1.30 1.30 0 1 0 -2.60 0 Z" fill="#444" fill-rule="evenodd"/><path d="M1219.17,792.02 L1220.89,792.14 L1220.89,792.94 L1219.17,793.06 L1219.01,793.85 L1220.55,794.61 L1220.25,795.36 L1218.62,794.80 L1218.17,795.48 L1219.30,796.77 L1218.73,797.34 L1217.44,796.21 L1216.76,796.66 L1217.32,798.29 L1216.57,798.59 L1215.81,797.05 L1215.02,797.21 L1214.90,798.93 L1214.10,798.93 L1213.98,797.21 L1213.19,797.05 L1212.43,798.59 L1211.68,798.29 L1212.24,796.66 L1211.56,796.21 L1210.27,797.34 L1209.70,796.77 L1210.83,795.48 L1210.38,794.80 L1208.75,795.36 L1208.45,794.61 L1209.99,793.85 L1209.83,793.06 L1208.11,792.94 L1208.11,792.14 L1209.83,792.02 L1209.99,791.23 L1208.45,790.47 L1208.75,789.72 L1210.38,790.28 L1210.83,789.60 L1209.70,788.31 L1210.27,787.74 L1211.56,788.87 L1212.24,788.42 L1211.68,786.79 L1212.43,786.49 L1213.19,788.03 L1213.98,787.87 L1214.10,786.15 L1214.90,786.15 L1215.02,787.87 L1215.81,788.03 L1216.57,786.49 L1217.32,786.79 L1216.76,788.42 L1217.44,788.87 L1218.73,787.74 L1219.30,788.31 L1218.17,789.60 L1218.62,790.28 L1220.25,789.72 L1220.55,790.47 L1219.01,791.23 Z M1212.00 792.54 a2.50 2.50 0 1 0 5.00 0 a2.50 2.50 0 1 0 -5.00 0 Z" fill="#444" fill-rule="evenodd"/><path d="M1209.55,799.68 L1210.78,799.79 L1210.78,800.69 L1209.55,800.80 L1209.31,801.52 L1210.24,802.33 L1209.72,803.06 L1208.65,802.43 L1208.05,802.87 L1208.32,804.07 L1207.46,804.35 L1206.98,803.22 L1206.22,803.22 L1205.74,804.35 L1204.88,804.07 L1205.15,802.87 L1204.55,802.43 L1203.48,803.06 L1202.96,802.33 L1203.89,801.52 L1203.65,800.80 L1202.42,800.69 L1202.42,799.79 L1203.65,799.68 L1203.89,798.96 L1202.96,798.15 L1203.48,797.42 L1204.55,798.05 L1205.15,797.61 L1204.88,796.41 L1205.74,796.13 L1206.22,797.26 L1206.98,797.26 L1207.46,796.13 L1208.32,796.41 L1208.05,797.61 L1208.65,798.05 L1209.72,797.42 L1210.24,798.15 L1209.31,798.96 Z M1205.30 800.24 a1.30 1.30 0 1 0 2.60 0 a1.30 1.30 0 1 0 -2.60 0 Z" fill="#444" fill-rule="evenodd"/><path d="M1219.17,837.58 L1220.89,837.70 L1220.89,838.50 L1219.17,838.62 L1219.01,839.41 L1220.55,840.17 L1220.25,840.92 L1218.62,840.36 L1218.17,841.04 L1219.30,842.33 L1218.73,842.90 L1217.44,841.77 L1216.76,842.22 L1217.32,843.85 L1216.57,844.15 L1215.81,842.61 L1215.02,842.77 L1214.90,844.49 L1214.10,844.49 L1213.98,842.77 L1213.19,842.61 L1212.43,844.15 L1211.68,843.85 L1212.24,842.22 L1211.56,841.77 L1210.27,842.90 L1209.70,842.33 L1210.83,841.04 L1210.38,840.36 L1208.75,840.92 L1208.45,840.17 L1209.99,839.41 L1209.83,838.62 L1208.11,838.50 L1208.11,837.70 L1209.83,837.58 L1209.99,836.79 L1208.45,836.03 L1208.75,835.28 L1210.38,835.84 L1210.83,835.16 L1209.70,833.87 L1210.27,833.30 L1211.56,834.43 L1212.24,833.98 L1211.68,832.35 L1212.43,832.05 L1213.19,833.59 L1213.98,833.43 L1214.10,831.71 L1214.90,831.71 L1215.02,833.43 L1215.81,833.59 L1216.57,832.05 L1217.32,832.35 L1216.76,833.98 L1217.44,834.43 L1218.73,833.30 L1219.30,833.87 L1218.17,835.16 L1218.62,835.84 L1220.25,835.28 L1220.55,836.03 L1219.01,836.79 Z M1212.00 838.10 a2.50 2.50 0 1 0 5.00 0 a2.50 2.50 0 1 0 -5.00 0 Z" fill="#444" fill-rule="evenodd"/><path d="M1209.55,845.24 L1210.78,845.35 L1210.78,846.25 L1209.55,846.36 L1209.31,847.08 L1210.24,847.89 L1209.72,848.62 L1208.65,847.99 L1208.05,848.43 L1208.32,849.63 L1207.46,849.91 L1206.98,848.78 L1206.22,848.78 L1205.74,849.91 L1204.88,849.63 L1205.15,848.43 L1204.55,847.99 L1203.48,848.62 L1202.96,847.89 L1203.89,847.08 L1203.65,846.36 L1202.42,846.25 L1202.42,845.35 L1203.65,845.24 L1203.89,844.52 L1202.96,843.71 L1203.48,842.98 L1204.55,843.61 L1205.15,843.17 L1204.88,841.97 L1205.74,841.69 L1206.22,842.82 L1206.98,842.82 L1207.46,841.69 L1208.32,841.97 L1208.05,843.17 L1208.65,843.61 L1209.72,842.98 L1210.24,843.71 L1209.31,844.52 Z M1205.30 845.80 a1.30 1.30 0 1 0 2.60 0 a1.30 1.30 0 1 0 -2.60 0 Z" fill="#444" fill-rule="evenodd"/><path d="M1219.17,883.14 L1220.89,883.26 L1220.89,884.06 L1219.17,884.18 L1219.01,884.97 L1220.55,885.73 L1220.25,886.48 L1218.62,885.92 L1218.17,886.60 L1219.30,887.89 L1218.73,888.46 L1217.44,887.33 L1216.76,887.78 L1217.32,889.41 L1216.57,889.71 L1215.81,888.17 L1215.02,888.33 L1214.90,890.05 L1214.10,890.05 L1213.98,888.33 L1213.19,888.17 L1212.43,889.71 L1211.68,889.41 L1212.24,887.78 L1211.56,887.33 L1210.27,888.46 L1209.70,887.89 L1210.83,886.60 L1210.38,885.92 L1208.75,886.48 L1208.45,885.73 L1209.99,884.97 L1209.83,884.18 L1208.11,884.06 L1208.11,883.26 L1209.83,883.14 L1209.99,882.35 L1208.45,881.59 L1208.75,880.84 L1210.38,881.40 L1210.83,880.72 L1209.70,879.43 L1210.27,878.86 L1211.56,879.99 L1212.24,879.54 L1211.68,877.91 L1212.43,877.61 L1213.19,879.15 L1213.98,878.99 L1214.10,877.27 L1214.90,877.27 L1215.02,878.99 L1215.81,879.15 L1216.57,877.61 L1217.32,877.91 L1216.76,879.54 L1217.44,879.99 L1218.73,878.86 L1219.30,879.43 L1218.17,880.72 L1218.62,881.40 L1220.25,880.84 L1220.55,881.59 L1219.01,882.35 Z M1212.00 883.66 a2.50 2.50 0 1 0 5.00 0 a2.50 2.50 0 1 0 -5.00 0 Z" fill="#444" fill-rule="evenodd"/><path d="M1209.55,890.80 L1210.78,890.91 L1210.78,891.81 L1209.55,891.92 L1209.31,892.64 L1210.24,893.45 L1209.72,894.18 L1208.65,893.55 L1208.05,893.99 L1208.32,895.19 L1207.46,895.47 L1206.98,894.34 L1206.22,894.34 L1205.74,895.47 L1204.88,895.19 L1205.15,893.99 L1204.55,893.55 L1203.48,894.18 L1202.96,893.45 L1203.89,892.64 L1203.65,891.92 L1202.42,891.81 L1202.42,890.91 L1203.65,890.80 L1203.89,890.08 L1202.96,889.27 L1203.48,888.54 L1204.55,889.17 L1205.15,888.73 L1204.88,887.53 L1205.74,887.25 L1206.22,888.38 L1206.98,888.38 L1207.46,887.25 L1208.32,887.53 L1208.05,888.73 L1208.65,889.17 L1209.72,888.54 L1210.24,889.27 L1209.31,890.08 Z M1205.30 891.36 a1.30 1.30 0 1 0 2.60 0 a1.30 1.30 0 1 0 -2.60 0 Z" fill="#444" fill-rule="evenodd"/><path d="M1219.17,928.70 L1220.89,928.82 L1220.89,929.62 L1219.17,929.74 L1219.01,930.53 L1220.55,931.29 L1220.25,932.04 L1218.62,931.48 L1218.17,932.16 L1219.30,933.45 L1218.73,934.02 L1217.44,932.89 L1216.76,933.34 L1217.32,934.97 L1216.57,935.27 L1215.81,933.73 L1215.02,933.89 L1214.90,935.61 L1214.10,935.61 L1213.98,933.89 L1213.19,933.73 L1212.43,935.27 L1211.68,934.97 L1212.24,933.34 L1211.56,932.89 L1210.27,934.02 L1209.70,933.45 L1210.83,932.16 L1210.38,931.48 L1208.75,932.04 L1208.45,931.29 L1209.99,930.53 L1209.83,929.74 L1208.11,929.62 L1208.11,928.82 L1209.83,928.70 L1209.99,927.91 L1208.45,927.15 L1208.75,926.40 L1210.38,926.96 L1210.83,926.28 L1209.70,924.99 L1210.27,924.42 L1211.56,925.55 L1212.24,925.10 L1211.68,923.47 L1212.43,923.17 L1213.19,924.71 L1213.98,924.55 L1214.10,922.83 L1214.90,922.83 L1215.02,924.55 L1215.81,924.71 L1216.57,923.17 L1217.32,923.47 L1216.76,925.10 L1217.44,925.55 L1218.73,924.42 L1219.30,924.99 L1218.17,926.28 L1218.62,926.96 L1220.25,926.40 L1220.55,927.15 L1219.01,927.91 Z M1212.00 929.22 a2.50 2.50 0 1 0 5.00 0 a2.50 2.50 0 1 0 -5.00 0 Z" fill="#444" fill-rule="evenodd"/><path d="M1209.55,936.36 L1210.78,936.47 L1210.78,937.37 L1209.55,937.48 L1209.31,938.20 L1210.24,939.01 L1209.72,939.74 L1208.65,939.11 L1208.05,939.55 L1208.32,940.75 L1207.46,941.03 L1206.98,939.90 L1206.22,939.90 L1205.74,941.03 L1204.88,940.75 L1205.15,939.55 L1204.55,939.11 L1203.48,939.74 L1202.96,939.01 L1203.89,938.20 L1203.65,937.48 L1202.42,937.37 L1202.42,936.47 L1203.65,936.36 L1203.89,935.64 L1202.96,934.83 L1203.48,934.10 L1204.55,934.73 L1205.15,934.29 L1204.88,933.09 L1205.74,932.81 L1206.22,933.94 L1206.98,933.94 L1207.46,932.81 L1208.32,933.09 L1208.05,934.29 L1208.65,934.73 L1209.72,934.10 L1210.24,934.83 L1209.31,935.64 Z M1205.30 936.92 a1.30 1.30 0 1 0 2.60 0 a1.30 1.30 0 1 0 -2.60 0 Z" fill="#444" fill-rule="evenodd"/><path d="M1219.17,974.26 L1220.89,974.38 L1220.89,975.18 L1219.17,975.30 L1219.01,976.09 L1220.55,976.85 L1220.25,977.60 L1218.62,977.04 L1218.17,977.72 L1219.30,979.01 L1218.73,979.58 L1217.44,978.45 L1216.76,978.90 L1217.32,980.53 L1216.57,980.83 L1215.81,979.29 L1215.02,979.45 L1214.90,981.17 L1214.10,981.17 L1213.98,979.45 L1213.19,979.29 L1212.43,980.83 L1211.68,980.53 L1212.24,978.90 L1211.56,978.45 L1210.27,979.58 L1209.70,979.01 L1210.83,977.72 L1210.38,977.04 L1208.75,977.60 L1208.45,976.85 L1209.99,976.09 L1209.83,975.30 L1208.11,975.18 L1208.11,974.38 L1209.83,974.26 L1209.99,973.47 L1208.45,972.71 L1208.75,971.96 L1210.38,972.52 L1210.83,971.84 L1209.70,970.55 L1210.27,969.98 L1211.56,971.11 L1212.24,970.66 L1211.68,969.03 L1212.43,968.73 L1213.19,970.27 L1213.98,970.11 L1214.10,968.39 L1214.90,968.39 L1215.02,970.11 L1215.81,970.27 L1216.57,968.73 L1217.32,969.03 L1216.76,970.66 L1217.44,971.11 L1218.73,969.98 L1219.30,970.55 L1218.17,971.84 L1218.62,972.52 L1220.25,971.96 L1220.55,972.71 L1219.01,973.47 Z M1212.00 974.78 a2.50 2.50 0 1 0 5.00 0 a2.50 2.50 0 1 0 -5.00 0 Z" fill="#444" fill-rule="evenodd"/><path d="M1209.55,981.92 L1210.78,982.03 L1210.78,982.93 L1209.55,983.04 L1209.31,983.76 L1210.24,984.57 L1209.72,985.30 L1208.65,984.67 L1208.05,985.11 L1208.32,986.31 L1207.46,986.59 L1206.98,985.46 L1206.22,985.46 L1205.74,986.59 L1204.88,986.31 L1205.15,985.11 L1204.55,984.67 L1203.48,985.30 L1202.96,984.57 L1203.89,983.76 L1203.65,983.04 L1202.42,982.93 L1202.42,982.03 L1203.65,981.92 L1203.89,981.20 L1202.96,980.39 L1203.48,979.66 L1204.55,980.29 L1205.15,979.85 L1204.88,978.65 L1205.74,978.37 L1206.22,979.50 L1206.98,979.50 L1207.46,978.37 L1208.32,978.65 L1208.05,979.85 L1208.65,980.29 L1209.72,979.66 L1210.24,980.39 L1209.31,981.20 Z M1205.30 982.48 a1.30 1.30 0 1 0 2.60 0 a1.30 1.30 0 1 0 -2.60 0 Z" fill="#444" fill-rule="evenodd"/><path d="M1219.17,1019.82 L1220.89,1019.94 L1220.89,1020.74 L1219.17,1020.86 L1219.01,1021.65 L1220.55,1022.41 L1220.25,1023.16 L1218.62,1022.60 L1218.17,1023.28 L1219.30,1024.57 L1218.73,1025.14 L1217.44,1024.01 L1216.76,1024.46 L1217.32,1026.09 L1216.57,1026.39 L1215.81,1024.85 L1215.02,1025.01 L1214.90,1026.73 L1214.10,1026.73 L1213.98,1025.01 L1213.19,1024.85 L1212.43,1026.39 L1211.68,1026.09 L1212.24,1024.46 L1211.56,1024.01 L1210.27,1025.14 L1209.70,1024.57 L1210.83,1023.28 L1210.38,1022.60 L1208.75,1023.16 L1208.45,1022.41 L1209.99,1021.65 L1209.83,1020.86 L1208.11,1020.74 L1208.11,1019.94 L1209.83,1019.82 L1209.99,1019.03 L1208.45,1018.27 L1208.75,1017.52 L1210.38,1018.08 L1210.83,1017.40 L1209.70,1016.11 L1210.27,1015.54 L1211.56,1016.67 L1212.24,1016.22 L1211.68,1014.59 L1212.43,1014.29 L1213.19,1015.83 L1213.98,1015.67 L1214.10,1013.95 L1214.90,1013.95 L1215.02,1015.67 L1215.81,1015.83 L1216.57,1014.29 L1217.32,1014.59 L1216.76,1016.22 L1217.44,1016.67 L1218.73,1015.54 L1219.30,1016.11 L1218.17,1017.40 L1218.62,1018.08 L1220.25,1017.52 L1220.55,1018.27 L1219.01,1019.03 Z M1212.00 1020.34 a2.50 2.50 0 1 0 5.00 0 a2.50 2.50 0 1 0 -5.00 0 Z" fill="#444" fill-rule="evenodd"/><path d="M1209.55,1027.48 L1210.78,1027.59 L1210.78,1028.49 L1209.55,1028.60 L1209.31,1029.32 L1210.24,1030.13 L1209.72,1030.86 L1208.65,1030.23 L1208.05,1030.67 L1208.32,1031.87 L1207.46,1032.15 L1206.98,1031.02 L1206.22,1031.02 L1205.74,1032.15 L1204.88,1031.87 L1205.15,1030.67 L1204.55,1030.23 L1203.48,1030.86 L1202.96,1030.13 L1203.89,1029.32 L1203.65,1028.60 L1202.42,1028.49 L1202.42,1027.59 L1203.65,1027.48 L1203.89,1026.76 L1202.96,1025.95 L1203.48,1025.22 L1204.55,1025.85 L1205.15,1025.41 L1204.88,1024.21 L1205.74,1023.93 L1206.22,1025.06 L1206.98,1025.06 L1207.46,1023.93 L1208.32,1024.21 L1208.05,1025.41 L1208.65,1025.85 L1209.72,1025.22 L1210.24,1025.95 L1209.31,1026.76 Z M1205.30 1028.04 a1.30 1.30 0 1 0 2.60 0 a1.30 1.30 0 1 0 -2.60 0 Z" fill="#444" fill-rule="evenodd"/></svg>
</body></html>
